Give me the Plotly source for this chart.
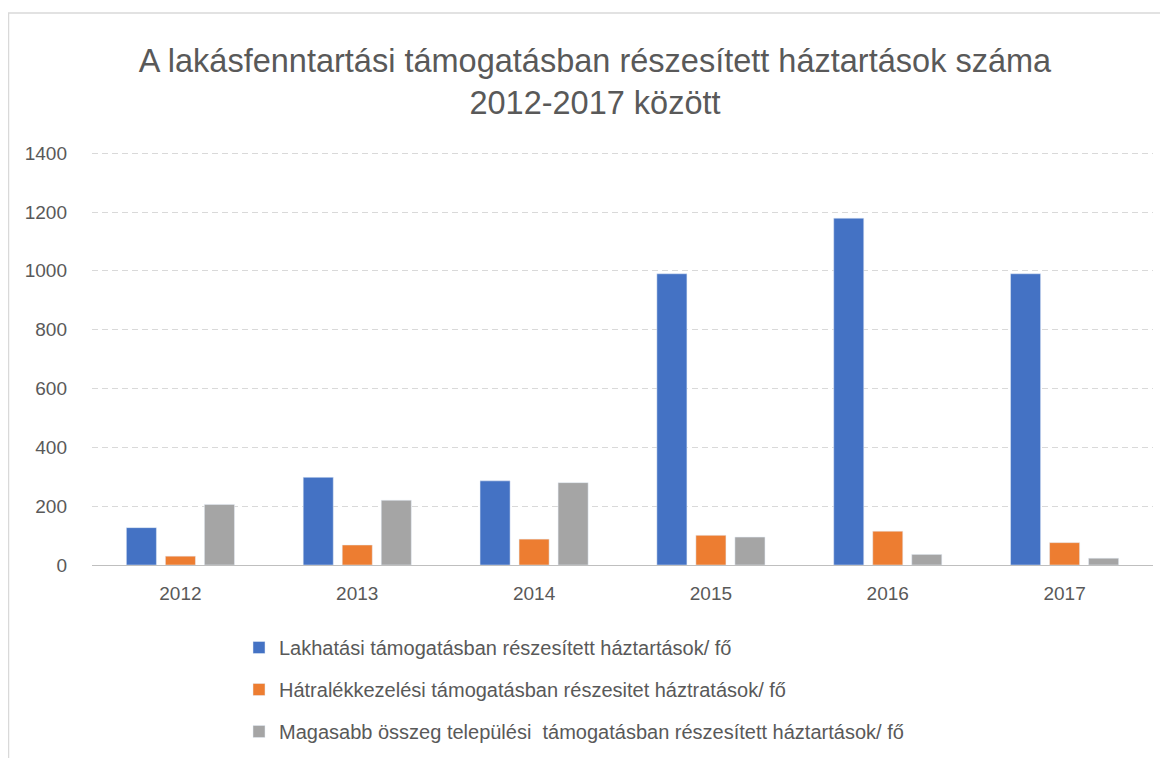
# Lakásfenntartási támogatás 2012-2017 — csoportosított oszlopdiagram

import plotly.graph_objects as go

YEARS = ["2012", "2013", "2014", "2015", "2016", "2017"]
LAKHATASI = [127, 298, 286, 990, 1179, 990]
HATRALEK = [30, 68, 88, 101, 115, 76]
MAGASABB = [206, 220, 280, 95, 36, 23]

SERIES = [
    ("Lakhatási támogatásban részesített háztartások/ fő", LAKHATASI, "#4472C4"),
    ("Hátralékkezelési támogatásban részesitet háztratások/ fő", HATRALEK, "#ED7D31"),
    ("Magasabb összeg települési  támogatásban részesített háztartások/ fő", MAGASABB, "#A5A5A5"),
]

TEXT = "#595959"
FONT = "Liberation Sans"

# a lap 8 px-es body margót kap, ezért a margók ezt levonva vannak megadva
W, H = 1168, 758
L, T, PH = 84, 144, 413
B = H - T - PH
PW = W - L - 23


def px(x):
    return (x - L) / PW


def py(y):
    return (T + PH - y) / PH


fig = go.Figure()
for i, (name, vals, color) in enumerate(SERIES):
    fig.add_trace(
        go.Bar(
            x=YEARS,
            y=vals,
            name=name,
            marker_color=color,
            legendgroup=f"g{i}",
        )
    )

fig.update_layout(
    width=W,
    height=H,
    paper_bgcolor="white",
    plot_bgcolor="white",
    font=dict(family=FONT, color=TEXT),
    title=dict(
        text="A lakásfenntartási támogatásban részesített háztartások száma<br>2012-2017 között",
        x=587 / W,
        xref="container",
        xanchor="center",
        y=1 - 64 / H,
        yref="container",
        yanchor="middle",
        font=dict(size=32.5, color=TEXT, family=FONT),
    ),
    barmode="group",
    bargap=0.338,
    bargroupgap=0.23,
    margin=dict(l=L, r=W - L - PW, t=T, b=B),
    showlegend=True,
    legend=dict(
        orientation="v",
        x=px(231),
        xanchor="left",
        y=py(620),
        yanchor="top",
        font=dict(size=20, color=TEXT),
        tracegroupgap=13,
        itemwidth=30,
    ),
    xaxis=dict(
        showgrid=False,
        showline=True,
        linecolor="#BFBFBF",
        linewidth=1,
        ticks="",
        tickfont=dict(size=19, color=TEXT),
        ticklabelstandoff=11,
    ),
    yaxis=dict(
        range=[0, 1404],
        tickvals=[0, 200, 400, 600, 800, 1000, 1200, 1400],
        showgrid=True,
        gridcolor="#D9D9D9",
        griddash="6px,4px",
        gridwidth=1,
        zeroline=False,
        showline=False,
        tickfont=dict(size=19, color=TEXT),
        ticklabelstandoff=24,
    ),
    shapes=[
        dict(
            type="rect",
            xref="paper",
            yref="paper",
            x0=px(0.5),
            x1=px(1300),
            y0=py(900),
            y1=py(5),
            line=dict(color="#D9D9D9", width=1.5),
            fillcolor="rgba(0,0,0,0)",
            layer="below",
        )
    ],
)

fig.write_html("out.html")
